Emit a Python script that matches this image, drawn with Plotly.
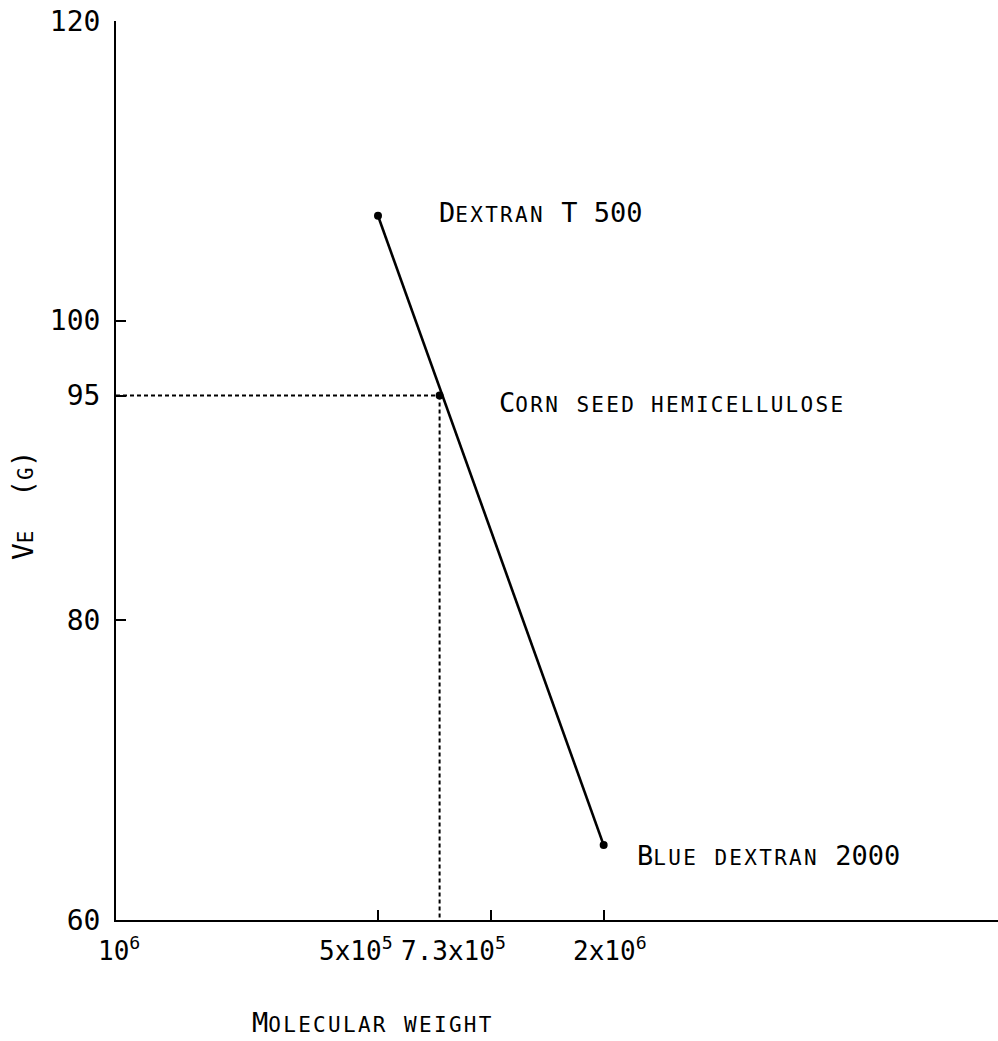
import numpy as np
import plotly.graph_objects as go

# Data
names = ["Dextran T 500", "Corn seed hemicellulose", "Blue dextran 2000"]
mol_weight = [5e5, 7.3e5, 2e6]
ve = [107, 95, 65]

line_names = ["Dextran T 500", "Blue dextran 2000"]
line_mw = [5e5, 2e6]
line_ve = [107, 65]

y_ticks = [60, 80, 95, 100, 120]
x_tick_marks = [5e5, 1e6, 2e6]
x_label_vals = [1e5, 5e5, 7.3e5, 2e6]
x_label_text = ["10<sup>6</sup>", "5x10<sup>5</sup>", "7.3x10<sup>5</sup>", "2x10<sup>6</sup>"]
x_label_shift = [3, -22, 14, 6]

FONT = "DejaVu Sans Mono"
BIG = 27
SMALL = 21
SMALL_STYLE = "font-size:%dpx;letter-spacing:2.3px" % SMALL

def sc(word):
    """small caps: first letter full size, rest smaller"""
    return word[0] + "<span style='%s'>%s</span>" % (SMALL_STYLE, word[1:])

def sc_all(word):
    return "<span style='%s'>%s</span>" % (SMALL_STYLE, word)

point_labels = [
    sc("DEXTRAN") + " T 500",
    sc("CORN") + " " + sc_all("SEED HEMICELLULOSE"),
    sc("BLUE") + " " + sc_all("DEXTRAN") + " 2000",
]
label_xshift = [59, 57, 31]
label_yshift = [3, -7, -10]

fig = go.Figure()

# dotted guide lines through the hemicellulose point
fig.add_trace(go.Scatter(x=[1e5, mol_weight[1]], y=[ve[1], ve[1]], mode="lines",
                         line=dict(color="black", width=2, dash="4px,3px"),
                         hoverinfo="skip", showlegend=False))
fig.add_trace(go.Scatter(x=[mol_weight[1], mol_weight[1]], y=[ve[1], 60], mode="lines",
                         line=dict(color="black", width=2, dash="4px,3px"),
                         hoverinfo="skip", showlegend=False))

# calibration line
fig.add_trace(go.Scatter(x=line_mw, y=line_ve, mode="lines",
                         line=dict(color="black", width=2.6), showlegend=False))
fig.add_trace(go.Scatter(x=mol_weight, y=ve, mode="markers",
                         marker=dict(color="black", size=8), text=names,
                         showlegend=False))

for xv, yv, txt, xs, ys in zip(mol_weight, ve, point_labels, label_xshift, label_yshift):
    fig.add_annotation(x=np.log10(xv), y=yv, text=txt, showarrow=False,
                       xanchor="left", yanchor="middle", xshift=xs, yshift=ys,
                       font=dict(family=FONT, size=BIG, color="black"))

for xv, txt, xs in zip(x_label_vals, x_label_text, x_label_shift):
    fig.add_annotation(x=np.log10(xv), y=60, text=txt, showarrow=False,
                       xanchor="center", yanchor="top", xshift=xs, yshift=-10,
                       font=dict(family=FONT, size=26, color="black"))

# x-axis title
fig.add_annotation(xref="paper", yref="paper", x=(373 - 116) / 882, y=-(1022 - 920) / 899,
                   text=sc("MOLECULAR") + " " + sc_all("WEIGHT"), showarrow=False,
                   xanchor="center", yanchor="middle",
                   font=dict(family=FONT, size=BIG, color="black"))

# y-axis title
fig.add_annotation(xref="paper", yref="paper", x=-(116 - 23) / 882, y=(920 - 505) / 899,
                   text="V" + "<span style='font-size:%dpx'>E</span>" % SMALL + "  ("
                        + "<span style='font-size:%dpx'>G</span>" % SMALL + ")",
                   showarrow=False, textangle=-90, xanchor="center", yanchor="middle",
                   font=dict(family=FONT, size=28, color="black"))

fig.update_layout(
    width=998, height=1041,
    margin=dict(l=116, r=0, t=21, b=121),
    paper_bgcolor="white", plot_bgcolor="white",
    font=dict(family=FONT, color="black"),
    xaxis=dict(type="log", range=[5, np.log10(2e6) + (998 - 604) / 374.5],
               showgrid=False, zeroline=False, showline=True, linecolor="black", linewidth=2,
               ticks="inside", ticklen=10, tickwidth=2, tickcolor="black",
               tickvals=x_tick_marks, showticklabels=False),
    yaxis=dict(range=[60, 120], showgrid=False, zeroline=False, showline=True,
               linecolor="black", linewidth=2,
               ticks="inside", ticklen=10, tickwidth=2, tickcolor="black",
               tickvals=y_ticks, ticktext=[str(v) for v in y_ticks],
               tickfont=dict(family=FONT, size=28, color="black"),
               ticklabelstandoff=8),
)

fig.write_html("out.html", config={"displayModeBar": False},
               post_script="document.body.style.margin='0';document.body.style.overflow='hidden';")
